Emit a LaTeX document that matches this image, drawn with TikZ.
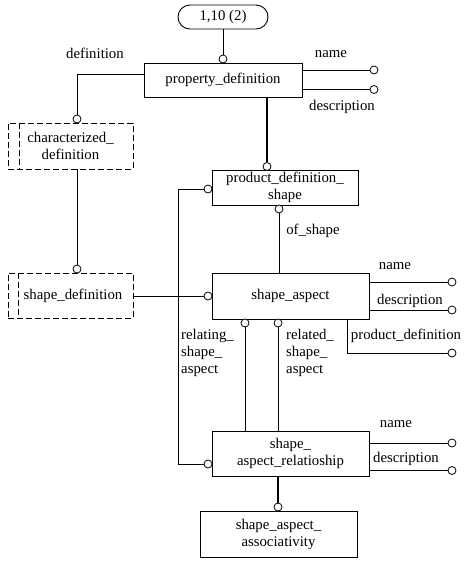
\documentclass[tikz,border=0pt]{standalone}
\usepackage{fontspec}
\setmainfont{Liberation Serif}
\begin{document}
\begin{tikzpicture}[x=1pt,y=-1pt,
  every node/.style={font=\fontsize{14.8}{17}\selectfont},
  ent/.style={draw,line width=0.9pt,inner sep=0pt,align=center},
  sel/.style={ent,dash pattern=on 6pt off 3pt},
  seline/.style={line width=0.9pt,dash pattern=on 6pt off 3pt},
  lbl/.style={inner sep=0pt},
  dot/.style={circle,draw,fill=white,line width=0.8pt,minimum size=8pt,inner sep=0pt},
  conn/.style={line width=0.8pt},
  thickconn/.style={line width=1.8pt}]
\useasboundingbox (0,0) rectangle (474,563);
\fill[white] (0,0) rectangle (474,563);
% entities
\node[ent,rounded corners=12pt,minimum width=90pt,minimum height=24pt] (ref) at (223,17) {1,10 (2)};
\node[ent,minimum width=158pt,minimum height=34pt] (pd) at (223,80) {property\_definition};
\node[sel,minimum width=125pt,minimum height=46pt] (cd) at (70.5,146) {characterized\_\\definition};
\node[ent,minimum width=146pt,minimum height=34.5pt] (pds) at (285,187.75) {product\_definition\_\\shape};
\node[sel,minimum width=125pt,minimum height=45pt] (sd) at (70.5,295.5) {\hspace*{5pt}shape\_definition};
\node[ent,minimum width=157pt,minimum height=46pt] (sa) at (290.5,296) {shape\_aspect};
\node[ent,minimum width=157pt,minimum height=45pt] (sar) at (290.5,453.5) {shape\_\\aspect\_relatioship};
\node[ent,minimum width=157pt,minimum height=46pt] (saa) at (278.5,534) {shape\_aspect\_\\associativity};
\draw[seline] ([xshift=12pt]cd.north west) -- ([xshift=12pt]cd.south west);
\draw[seline] ([xshift=11pt]sd.north west) -- ([xshift=11pt]sd.south west);
% circles
\node[dot] (c1) at (223,59) {};
\node[dot] (cpdn) at (374,70) {};
\node[dot] (cpdd) at (374,89.5) {};
\node[dot] (ccd) at (77,119) {};
\node[dot] (cpds) at (267,166.5) {};
\node[dot] (cpdsl) at (208,189) {};
\node[dot] (cpdsb) at (279,209) {};
\node[dot] (csd) at (77,269) {};
\node[dot] (csal) at (208,296) {};
\node[dot] (csan) at (452,282) {};
\node[dot] (csad) at (452,310) {};
\node[dot] (csap) at (452,353) {};
\node[dot] (csab1) at (245,323) {};
\node[dot] (csab2) at (278,323) {};
\node[dot] (csarl) at (208,464) {};
\node[dot] (csarn) at (452,443) {};
\node[dot] (csard) at (452,470.5) {};
\node[dot] (csarb) at (278,507) {};
% connectors
\draw[conn] (ref) -- (c1);
\draw[conn] (pd.east |- cpdn) -- (cpdn);
\draw[conn] (pd.east |- cpdd) -- (cpdd);
\draw[conn] ([yshift=6pt]pd.west) -| (ccd);
\draw[thickconn] (pd.south -| cpds) -- (cpds);
\draw[conn] (cpdsl) -- ++(-30,0) |- (csarl);
\draw[conn] (cpdsb) -- (cpdsb |- sa.north);
\draw[conn] (cd.south -| ccd) -- (csd);
\draw[conn] (sd.east |- csal) -- (csal);
\draw[conn] (sa.east |- csan) -- (csan);
\draw[conn] (sa.east |- csad) -- (csad);
\draw[conn] ([xshift=-22pt]sa.south east) |- (csap);
\draw[conn] (csab1) -- (csab1 |- sar.north);
\draw[conn] (csab2) -- (csab2 |- sar.north);
\draw[conn] (sar.east |- csarn) -- (csarn);
\draw[conn] (sar.east |- csard) -- (csard);
\draw[thickconn] (sar.south -| csarb) -- (csarb);
% labels
\node[lbl] (ldef) at (95,53) {definition};
\node[lbl] (lpdn) at (331,54) {name};
\node[lbl] (lpdd) at (342,107) {description};
\node[lbl] (lofs) at (313,231) {of\_shape};
\node[lbl] (lsan) at (395,266) {name};
\node[lbl] (lsad) at (410,301) {description};
\node[lbl] (lsap) at (406,336) {product\_definition};
\node[lbl,align=left,anchor=west] (lrel1) at (181,353) {relating\_\\shape\_\\aspect};
\node[lbl,align=left,anchor=west] (lrel2) at (286,353) {related\_\\shape\_\\aspect};
\node[lbl] (lsarn) at (396,424) {name};
\node[lbl] (lsard) at (406,459) {description};
\end{tikzpicture}
\end{document}
